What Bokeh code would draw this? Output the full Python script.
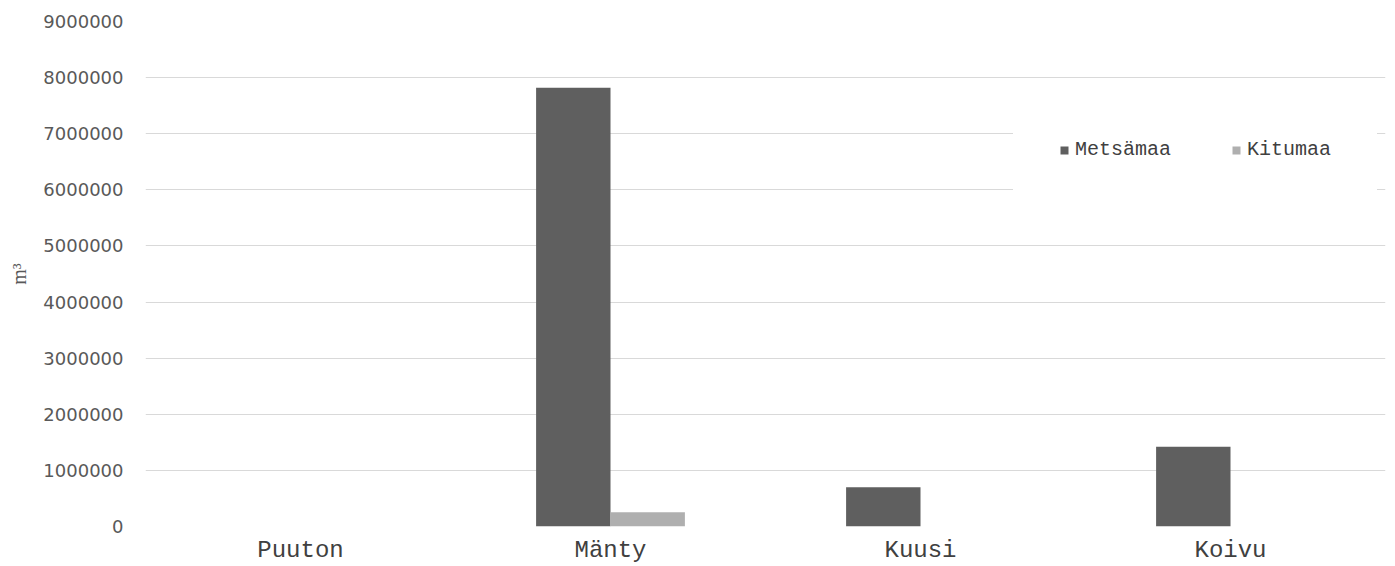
from bokeh.plotting import figure
from bokeh.models import FactorRange, ColumnDataSource, Legend, LegendItem, Range1d, FixedTicker, NumeralTickFormatter
from bokeh.transform import dodge
from bokeh.embed import file_html
from bokeh.resources import INLINE

categories = ["Puuton", "Mänty", "Kuusi", "Koivu"]
metsamaa = [0, 7820000, 700000, 1420000]
kitumaa = [0, 255000, 0, 0]
y_ticks = [0, 1000000, 2000000, 3000000, 4000000, 5000000, 6000000, 7000000, 8000000, 9000000]

src = ColumnDataSource(dict(cat=categories, m=metsamaa, k=kitumaa))

p = figure(width=1395, height=566, output_backend="svg", toolbar_location=None,
           x_range=FactorRange(*categories, range_padding=0), y_range=Range1d(0, 9000000),
           min_border_left=145, min_border_right=10, min_border_top=21, min_border_bottom=36)
p.outline_line_color = None
p.background_fill_color = "white"

r1 = p.vbar(x=dodge("cat", -0.12, range=p.x_range), top="m", width=0.24, source=src,
            fill_color="#5f5f5f", line_color=None)
r2 = p.vbar(x=dodge("cat", 0.12, range=p.x_range), top="k", width=0.24, source=src,
            fill_color="#afafaf", line_color=None)

p.xgrid.grid_line_color = None
p.ygrid.grid_line_color = "#d9d9d9"
p.ygrid.grid_line_width = 1
p.yaxis.ticker = FixedTicker(ticks=y_ticks)
p.yaxis.formatter = NumeralTickFormatter(format="0")
for ax in (p.xaxis, p.yaxis):
    ax.axis_line_color = None
    ax.major_tick_line_color = None
    ax.minor_tick_line_color = None

p.yaxis.major_label_text_font = "DejaVu Sans"
p.yaxis.major_label_text_font_size = "18px"
p.yaxis.major_label_text_color = "#595959"
p.yaxis.major_label_standoff = 16
p.yaxis.axis_label = "m³"
p.yaxis.axis_label_text_font = "Liberation Serif"
p.yaxis.axis_label_text_font_style = "normal"
p.yaxis.axis_label_text_font_size = "20px"
p.yaxis.axis_label_text_color = "#595959"
p.yaxis.axis_label_standoff = 10

p.xaxis.major_label_text_font = "Liberation Mono"
p.xaxis.major_label_text_font_size = "24px"
p.xaxis.major_label_text_color = "#404040"
p.xaxis.major_label_standoff = 4

legend = Legend(items=[LegendItem(label="Metsämaa", renderers=[r1]),
                       LegendItem(label="Kitumaa", renderers=[r2])],
                orientation="horizontal", location=(868, 319),
                glyph_width=10, glyph_height=10, label_standoff=6, spacing=60,
                padding=45, margin=0, border_line_color="white", border_line_width=1,
                background_fill_color="white", background_fill_alpha=1.0,
                label_text_font="Liberation Mono", label_text_font_size="20px",
                label_text_color="#404040")
p.add_layout(legend, "center")

open("out.html", "w").write(file_html(p, INLINE))
